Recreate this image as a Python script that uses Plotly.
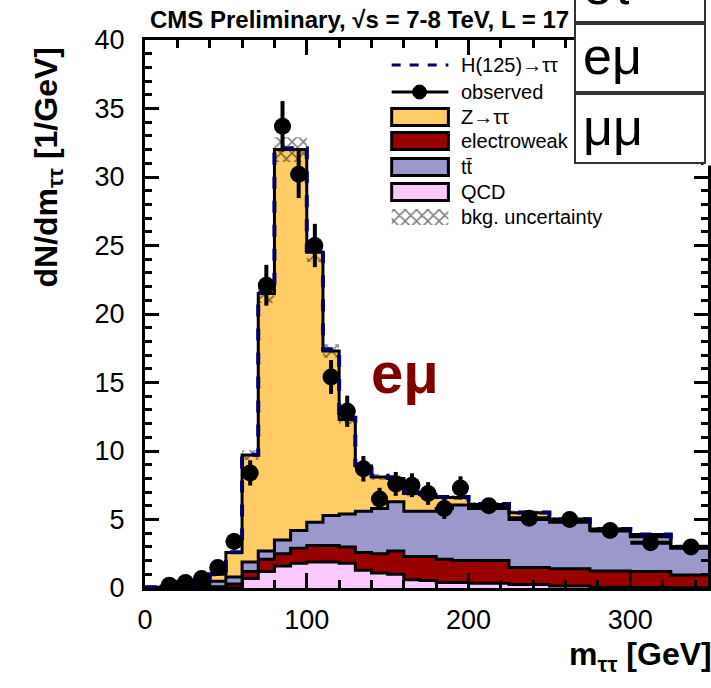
import numpy as np
import plotly.graph_objects as go

# m_tautau binning [GeV]: 10 GeV bins up to 200, 25 GeV bins up to 350
bin_edges = [0, 10, 20, 30, 40, 50, 60, 70, 80, 90, 100, 110, 120, 130, 140,
             150, 160, 170, 180, 190, 200, 225, 250, 275, 300, 325, 350]

# background contributions, dN/dm [1/GeV], stacked bottom to top
qcd = [0, 0, 0, 0, 0, 0, 0.7, 1.2, 1.6, 1.8, 1.9, 1.9, 1.8, 1.3, 1.1, 1.0,
       0.6, 0.55, 0.4, 0.4, 0.35, 0.25, 0.15, 0.05, 0.03, 0.02]
ewk = [0, 0, 0.02, 0.05, 0.1, 0.3, 0.5, 0.9, 0.9, 1.1, 1.2, 1.2, 1.2, 1.3,
       1.4, 1.7, 1.7, 1.75, 1.7, 1.6, 1.65, 1.25, 1.25, 1.2, 1.17, 0.93]
ttbar = [0, 0.02, 0.06, 0.15, 0.4, 0.5, 0.7, 0.6, 1.0, 1.3, 1.7, 2.2, 2.4,
         3.0, 3.3, 3.6, 3.3, 3.3, 3.7, 4.05, 3.8, 3.5, 3.4, 2.95, 2.55, 1.95]
ztt = [0.05, 0.13, 0.22, 0.3, 0.5, 1.8, 7.8, 18.8, 28.5, 27.8, 19.7, 12.0,
       6.9, 3.3, 2.3, 1.7, 1.3, 1.2, 0.8, 0.55, 0.3, 0.5, 0.2, 0.1, 0.15, 0.1]
# SM Higgs (125 GeV) expectation stacked on the background
higgs = [0, 0, 0, 0, 0, 0.01, 0.03, 0.05, 0.08, 0.1, 0.12, 0.12, 0.12, 0.1,
         0.1, 0.08, 0.07, 0.06, 0.05, 0.04, 0.03, 0.02, 0.02, 0.01, 0.01, 0.01]
# total background uncertainty (absolute, 1/GeV)
bkg_unc = [0.01, 0.02, 0.03, 0.04, 0.06, 0.12, 0.35, 0.7, 0.9, 0.9, 0.7, 0.5,
           0.35, 0.25, 0.22, 0.22, 0.2, 0.2, 0.18, 0.18, 0.17, 0.16, 0.15,
           0.13, 0.12, 0.1]

# observed data with statistical errors (no entry in the first bin)
observed = [None, 0.2, 0.4, 0.7, 1.5, 3.4, 8.4, 22.1, 33.7, 30.2, 25.0, 15.4,
            12.9, 8.7, 6.5, 7.6, 7.5, 6.9, 5.8, 7.3, 6.0, 5.1, 5.0, 4.2, 3.3,
            3.0]
observed_err = [None, 0.14, 0.2, 0.26, 0.39, 0.58, 0.92, 1.49, 1.84, 1.74,
                1.58, 1.24, 1.14, 0.93, 0.81, 0.87, 0.87, 0.83, 0.76, 0.85,
                0.49, 0.45, 0.45, 0.41, 0.36, 0.35]

y_ticks = [0, 5, 10, 15, 20, 25, 30, 35, 40]
x_ticks = [0, 100, 200, 300]

# ---------------------------------------------------------------- geometry
W, H = 711, 688
L, R, T, B = 145, 711, 40, 588
XMAX, YMAX = 348.0, 40.0
FONT = "Liberation Sans, Arial, sans-serif"
HATCH = dict(shape="x", fgcolor="black", bgcolor="rgba(0,0,0,0)",
             size=8, solidity=0.35)


def px(x):
    return (x - L) / (R - L)


def py(y):
    return (B - y) / (B - T)


def dx(x):
    return XMAX * px(x)


def dy(y):
    return YMAX * py(y)


edges = np.array(bin_edges, dtype=float)
centers = 0.5 * (edges[:-1] + edges[1:])
half_w = 0.5 * np.diff(edges)


def step(vals):
    v = np.asarray(vals, dtype=float)
    return np.append(v, v[-1])


fig = go.Figure()

components = [
    (qcd, "#FACAFF"),
    (ewk, "#990000"),
    (ttbar, "#9B98CC"),
    (ztt, "#FFCC66"),
]
cum = np.zeros(len(centers))
for i, (vals, col) in enumerate(components):
    cum = cum + np.asarray(vals, dtype=float)
    fig.add_trace(go.Scatter(
        x=edges, y=step(cum), mode="lines",
        line=dict(shape="hv", color="black", width=3),
        fill="tozeroy" if i == 0 else "tonexty", fillcolor=col,
        hoverinfo="skip", showlegend=False))

total = cum
unc = np.asarray(bkg_unc, dtype=float)
fig.add_trace(go.Scatter(
    x=edges, y=step(total - unc), mode="lines",
    line=dict(shape="hv", width=0), hoverinfo="skip", showlegend=False))
fig.add_trace(go.Scatter(
    x=edges, y=step(total + unc), mode="lines",
    line=dict(shape="hv", width=0), fill="tonexty",
    fillcolor="rgba(0,0,0,0)", fillpattern=HATCH,
    hoverinfo="skip", showlegend=False))

# Higgs signal on top of the background
fig.add_trace(go.Scatter(
    x=edges, y=step(total + np.asarray(higgs)), mode="lines",
    line=dict(shape="hv", color="#000066", width=4, dash="dash"),
    hoverinfo="skip", showlegend=False))

# observed data
fig.add_trace(go.Scatter(
    x=centers, y=[np.nan if v is None else v for v in observed],
    mode="markers",
    marker=dict(size=17, color="black"),
    error_y=dict(type="data",
                 array=[0 if v is None else v for v in observed_err],
                 thickness=4, width=0, color="black"),
    error_x=dict(type="data", array=half_w, thickness=4, width=0,
                 color="black"),
    hoverinfo="skip", showlegend=False))

# ---------------------------------------------------------------- legend
shapes = []
annotations = []
bx0, bx1 = 393, 450
leg_font = dict(family=FONT, size=20, color="black")
entries = [
    ("H(125)\u2192\u03c4\u03c4", 65, "hline"),
    ("observed", 92, "data"),
    ("Z\u2192\u03c4\u03c4", 117, "#FFCC66"),
    ("electroweak", 141, "#990000"),
    ("tt\u0304", 167, "#9B98CC"),
    ("QCD", 192, "#FACAFF"),
    ("bkg. uncertainty", 217, "hatch"),
]
for label, yc, kind in entries:
    if kind == "hline":
        shapes.append(dict(type="line", xref="paper", yref="paper",
                           x0=px(bx0), x1=px(bx1), y0=py(yc), y1=py(yc),
                           line=dict(color="#000066", width=3, dash="dash")))
    elif kind == "data":
        shapes.append(dict(type="line", xref="paper", yref="paper",
                           x0=px(bx0), x1=px(bx1), y0=py(yc), y1=py(yc),
                           line=dict(color="black", width=3)))
        shapes.append(dict(type="circle", xref="paper", yref="paper",
                           x0=px(421 - 7), x1=px(421 + 7),
                           y0=py(yc + 7), y1=py(yc - 7),
                           fillcolor="black", line=dict(color="black", width=1)))
    elif kind == "hatch":
        fig.add_trace(go.Scatter(
            x=[dx(bx0), dx(bx1), dx(bx1), dx(bx0), dx(bx0)],
            y=[dy(yc - 8), dy(yc - 8), dy(yc + 8), dy(yc + 8), dy(yc - 8)],
            mode="lines", line=dict(width=0), fill="toself",
            fillcolor="rgba(0,0,0,0)", fillpattern=HATCH,
            hoverinfo="skip", showlegend=False))
    else:
        shapes.append(dict(type="rect", xref="paper", yref="paper",
                           x0=px(bx0), x1=px(bx1),
                           y0=py(yc + 8.5), y1=py(yc - 8.5),
                           fillcolor=kind, line=dict(color="black", width=3)))
    annotations.append(dict(text=label, xref="paper", yref="paper",
                            x=px(461), y=py(yc), xanchor="left",
                            yanchor="middle", showarrow=False, font=leg_font))

# ---------------------------------------------------------------- texts
annotations.append(dict(
    text="<b>CMS Preliminary, \u221as = 7-8 TeV, L = 17 fb<sup>-1</sup></b>",
    xref="paper", yref="paper", x=px(148), y=py(18), xanchor="left",
    yanchor="middle", showarrow=False,
    font=dict(family=FONT, size=24, color="black")))
annotations.append(dict(
    text="<b>e\u03bc</b>", xref="paper", yref="paper", x=px(370), y=py(372),
    xanchor="left", yanchor="middle", showarrow=False,
    font=dict(family=FONT, size=58, color="#800000")))
annotations.append(dict(
    text="<b>dN/dm<sub>\u03c4\u03c4</sub> [1/GeV]</b>", xref="paper",
    yref="paper", x=px(47), y=py(168), xanchor="center", yanchor="middle",
    textangle=-90, showarrow=False,
    font=dict(family=FONT, size=32, color="black")))
annotations.append(dict(
    text="<b>m<sub>\u03c4\u03c4</sub> [GeV]</b>", xref="paper", yref="paper",
    x=px(717), y=py(656), xanchor="right", yanchor="middle",
    showarrow=False, font=dict(family=FONT, size=32, color="black")))

# channel table in the top-right corner
cell_x0, cell_x1 = 576, 708
rows = [("e\u03c4", -47, 23), ("e\u03bc", 23, 93), ("\u03bc\u03bc", 93, 164)]
annotations.append(dict(
    text=" ", xref="paper", yref="paper", x=px(cell_x1 - 2), y=py(-10),
    xanchor="left", yanchor="top", width=20, height=174, borderpad=0,
    bgcolor="white", showarrow=False, font=dict(size=1)))
for label, y0, y1 in rows:
    bw = 2
    annotations.append(dict(
        text=" ", xref="paper", yref="paper", x=px(cell_x0), y=py(y0),
        xanchor="left", yanchor="top",
        width=cell_x1 - cell_x0 - 2 * bw, height=y1 - y0 - 2 * bw,
        borderpad=0, borderwidth=bw, bordercolor="#333333",
        bgcolor="white", showarrow=False, font=dict(size=1)))
for label, y0, y1 in rows:
    annotations.append(dict(
        text=label, xref="paper", yref="paper", x=px(583),
        y=py(0.5 * (y0 + y1) - 2), xanchor="left", yanchor="middle",
        showarrow=False, font=dict(family=FONT, size=52, color="black")))

axis_common = dict(
    showline=True, linecolor="black", linewidth=3, mirror="ticks",
    ticks="inside", tickcolor="black", tickwidth=3, showgrid=False,
    zeroline=False, layer="above traces",
    tickfont=dict(family=FONT, size=27, color="black"))

fig.update_layout(
    width=W, height=H,
    margin=dict(l=L, r=W - R, t=T, b=H - B),
    paper_bgcolor="white", plot_bgcolor="white",
    showlegend=False,
    shapes=shapes, annotations=annotations,
    xaxis=dict(range=[0, XMAX], tickvals=x_ticks, ticklen=15,
               minor=dict(dtick=20, tick0=0, ticklen=8, tickwidth=3,
                          ticks="inside", tickcolor="black"),
               ticklabelstandoff=6, **axis_common),
    yaxis=dict(range=[0, YMAX], tickvals=y_ticks, ticklen=14,
               minor=dict(dtick=1, tick0=0, ticklen=7, tickwidth=3,
                          ticks="inside", tickcolor="black"),
               ticklabelstandoff=12, **axis_common),
)

fig.write_html("out.html")
